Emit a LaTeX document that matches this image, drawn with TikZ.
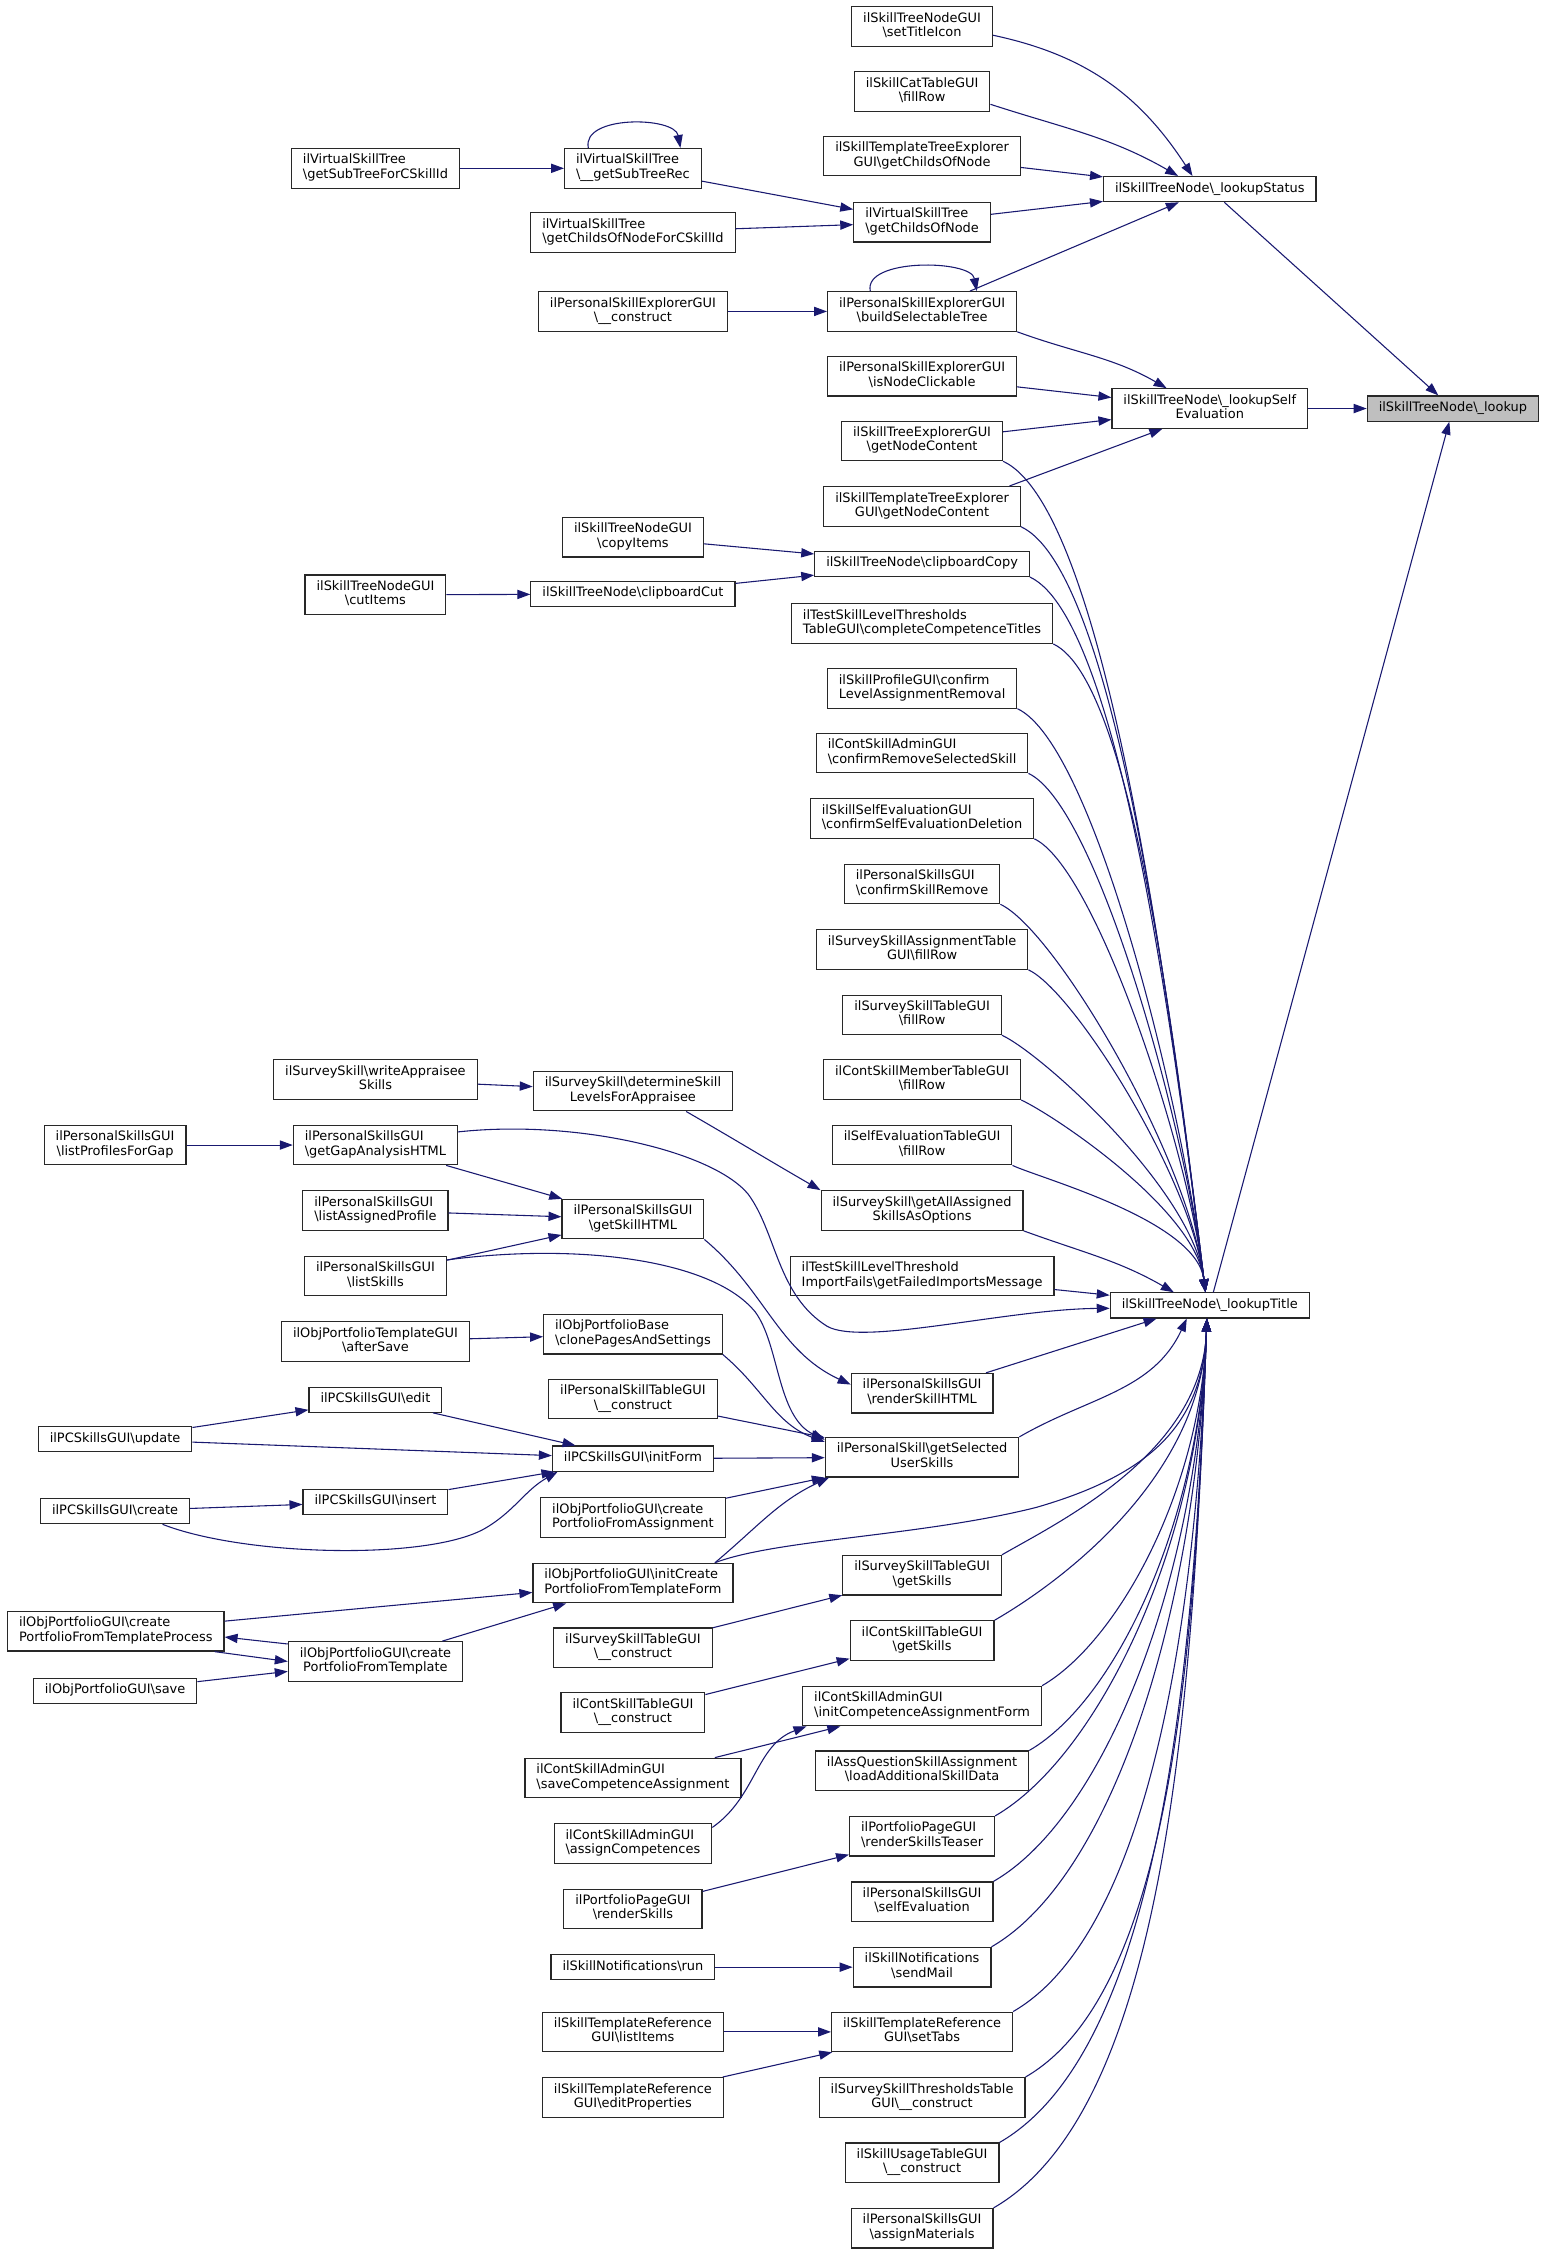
\documentclass[tikz,border=0pt]{standalone}
\usepackage{fontspec}
\setmainfont{DejaVu Sans}
\usetikzlibrary{arrows.meta}
\definecolor{edgeblue}{RGB}{25,25,112}
\definecolor{rootgray}{RGB}{191,191,191}
\definecolor{boxline}{RGB}{40,40,40}
\newcommand\bsh{\textbackslash}
\newcommand\twol[2]{\begin{tabular}{@{}l@{}}#1\\\multicolumn{1}{@{}c@{}}{#2}\end{tabular}}
\newcommand\onel[1]{\begin{tabular}{@{}c@{}}#1\end{tabular}}
\tikzset{
  fn/.style={draw=boxline, line width=0.8pt, fill=white, inner xsep=8pt, inner ysep=3.75pt, font=\fontsize{9}{10}\selectfont},
  rootfn/.style={fn, fill=rootgray},
  call/.style={draw=edgeblue, line width=0.75pt, -{Triangle[length=9pt,width=6.4pt]}}
}
\begin{document}
\begin{tikzpicture}[x=1pt,y=1pt]
  \useasboundingbox (0,0) rectangle (1074,-1569);
  \node[rootfn] (lookup) at (1010,-284) {\onel{ilSkillTreeNode\bsh\_lookup}};
  \node[fn] (lookupStatus) at (841,-131.5) {\onel{ilSkillTreeNode\bsh\_lookupStatus}};
  \node[fn] (lookupSelfEval) at (841,-284) {\twol{ilSkillTreeNode\bsh\_lookupSelf}{Evaluation}};
  \node[fn] (lookupTitle) at (841,-907.5) {\onel{ilSkillTreeNode\bsh\_lookupTitle}};

  \node[fn] (setTitleIcon) at (641,-18.5) {\twol{ilSkillTreeNodeGUI}{\bsh setTitleIcon}};
  \node[fn] (catFillRow) at (641,-63.5) {\twol{ilSkillCatTableGUI}{\bsh fillRow}};
  \node[fn] (tplChildsOfNode) at (641,-108.5) {\twol{ilSkillTemplateTreeExplorer}{GUI\bsh getChildsOfNode}};
  \node[fn] (vstChildsOfNode) at (641,-154.5) {\twol{ilVirtualSkillTree}{\bsh getChildsOfNode}};
  \node[fn] (buildSelTree) at (641,-216.5) {\twol{ilPersonalSkillExplorerGUI}{\bsh buildSelectableTree}};
  \node[fn] (isNodeClickable) at (641,-261.5) {\twol{ilPersonalSkillExplorerGUI}{\bsh isNodeClickable}};
  \node[fn] (steNodeContent) at (641,-306.5) {\twol{ilSkillTreeExplorerGUI}{\bsh getNodeContent}};
  \node[fn] (tplNodeContent) at (641,-352) {\twol{ilSkillTemplateTreeExplorer}{GUI\bsh getNodeContent}};
  \node[fn] (clipCopy) at (641,-392) {\onel{ilSkillTreeNode\bsh clipboardCopy}};
  \node[fn] (complTitles) at (641,-433.5) {\twol{ilTestSkillLevelThresholds}{TableGUI\bsh completeCompetenceTitles}};
  \node[fn] (confirmLevel) at (641,-478.5) {\twol{ilSkillProfileGUI\bsh confirm}{LevelAssignmentRemoval}};
  \node[fn] (confirmRemove) at (641,-523.5) {\twol{ilContSkillAdminGUI}{\bsh confirmRemoveSelectedSkill}};
  \node[fn] (confirmSelfEval) at (641,-569) {\twol{ilSkillSelfEvaluationGUI}{\bsh confirmSelfEvaluationDeletion}};
  \node[fn] (confirmSkillRem) at (641,-614.5) {\twol{ilPersonalSkillsGUI}{\bsh confirmSkillRemove}};
  \node[fn] (ssaFillRow) at (641,-660) {\twol{ilSurveySkillAssignmentTable}{GUI\bsh fillRow}};
  \node[fn] (sstFillRow) at (641,-705.5) {\twol{ilSurveySkillTableGUI}{\bsh fillRow}};
  \node[fn] (csmFillRow) at (641,-750.5) {\twol{ilContSkillMemberTableGUI}{\bsh fillRow}};
  \node[fn] (seFillRow) at (641,-796) {\twol{ilSelfEvaluationTableGUI}{\bsh fillRow}};
  \node[fn] (getAllAssigned) at (641,-841.5) {\twol{ilSurveySkill\bsh getAllAssigned}{SkillsAsOptions}};
  \node[fn] (failedImports) at (641,-887) {\twol{ilTestSkillLevelThreshold}{ImportFails\bsh getFailedImportsMessage}};
  \node[fn] (renderSkillHTML) at (641,-968.5) {\twol{ilPersonalSkillsGUI}{\bsh renderSkillHTML}};
  \node[fn] (getSelSkills) at (641,-1013) {\twol{ilPersonalSkill\bsh getSelected}{UserSkills}};
  \node[fn] (sstGetSkills) at (641,-1095) {\twol{ilSurveySkillTableGUI}{\bsh getSkills}};
  \node[fn] (cstGetSkills) at (641,-1140.5) {\twol{ilContSkillTableGUI}{\bsh getSkills}};
  \node[fn] (initCompForm) at (641,-1186) {\twol{ilContSkillAdminGUI}{\bsh initCompetenceAssignmentForm}};
  \node[fn] (loadAddData) at (641,-1231) {\twol{ilAssQuestionSkillAssignment}{\bsh loadAdditionalSkillData}};
  \node[fn] (renderTeaser) at (641,-1276.5) {\twol{ilPortfolioPageGUI}{\bsh renderSkillsTeaser}};
  \node[fn] (selfEval) at (641,-1322) {\twol{ilPersonalSkillsGUI}{\bsh selfEvaluation}};
  \node[fn] (sendMail) at (641,-1367.5) {\twol{ilSkillNotifications}{\bsh sendMail}};
  \node[fn] (setTabs) at (641,-1412.5) {\twol{ilSkillTemplateReference}{GUI\bsh setTabs}};
  \node[fn] (sstThrConstruct) at (641,-1458) {\twol{ilSurveySkillThresholdsTable}{GUI\bsh\_\_construct}};
  \node[fn] (usageConstruct) at (641,-1503.5) {\twol{ilSkillUsageTableGUI}{\bsh\_\_construct}};
  \node[fn] (assignMat) at (641,-1549) {\twol{ilPersonalSkillsGUI}{\bsh assignMaterials}};

  \node[fn] (getSubTreeRec) at (440,-117) {\twol{ilVirtualSkillTree}{\bsh\_\_getSubTreeRec}};
  \node[fn] (childsForCSkill) at (440,-161.5) {\twol{ilVirtualSkillTree}{\bsh getChildsOfNodeForCSkillId}};
  \node[fn] (pseConstruct) at (440,-216.5) {\twol{ilPersonalSkillExplorerGUI}{\bsh\_\_construct}};
  \node[fn] (copyItems) at (440,-373.5) {\twol{ilSkillTreeNodeGUI}{\bsh copyItems}};
  \node[fn] (clipCut) at (440,-413) {\onel{ilSkillTreeNode\bsh clipboardCut}};
  \node[fn] (determineLevels) at (440,-758.5) {\twol{ilSurveySkill\bsh determineSkill}{LevelsForAppraisee}};
  \node[fn] (getSkillHTML) at (440,-847.5) {\twol{ilPersonalSkillsGUI}{\bsh getSkillHTML}};
  \node[fn] (clonePages) at (440,-927.5) {\twol{ilObjPortfolioBase}{\bsh clonePagesAndSettings}};
  \node[fn] (pstConstruct) at (440,-972.5) {\twol{ilPersonalSkillTableGUI}{\bsh\_\_construct}};
  \node[fn] (initForm) at (440,-1014) {\onel{ilPCSkillsGUI\bsh initForm}};
  \node[fn] (createFromAssign) at (440,-1055) {\twol{ilObjPortfolioGUI\bsh create}{PortfolioFromAssignment}};
  \node[fn] (initCreateForm) at (440,-1100.5) {\twol{ilObjPortfolioGUI\bsh initCreate}{PortfolioFromTemplateForm}};
  \node[fn] (sstConstruct) at (440,-1145.5) {\twol{ilSurveySkillTableGUI}{\bsh\_\_construct}};
  \node[fn] (cstConstruct) at (440,-1190.5) {\twol{ilContSkillTableGUI}{\bsh\_\_construct}};
  \node[fn] (saveCompAssign) at (440,-1236) {\twol{ilContSkillAdminGUI}{\bsh saveCompetenceAssignment}};
  \node[fn] (assignComp) at (440,-1281.5) {\twol{ilContSkillAdminGUI}{\bsh assignCompetences}};
  \node[fn] (renderSkills) at (440,-1327) {\twol{ilPortfolioPageGUI}{\bsh renderSkills}};
  \node[fn] (notifRun) at (440,-1367.5) {\onel{ilSkillNotifications\bsh run}};
  \node[fn] (tplListItems) at (440,-1412.5) {\twol{ilSkillTemplateReference}{GUI\bsh listItems}};
  \node[fn] (tplEditProps) at (440,-1458) {\twol{ilSkillTemplateReference}{GUI\bsh editProperties}};

  \node[fn] (subTreeForCSkill) at (261,-117) {\twol{ilVirtualSkillTree}{\bsh getSubTreeForCSkillId}};
  \node[fn] (cutItems) at (261,-413.5) {\twol{ilSkillTreeNodeGUI}{\bsh cutItems}};
  \node[fn] (writeAppraisee) at (261,-750.5) {\twol{ilSurveySkill\bsh writeAppraisee}{Skills}};
  \node[fn] (gapAnalysis) at (261,-796) {\twol{ilPersonalSkillsGUI}{\bsh getGapAnalysisHTML}};
  \node[fn] (listAssigned) at (261,-841.5) {\twol{ilPersonalSkillsGUI}{\bsh listAssignedProfile}};
  \node[fn] (listSkills) at (261,-887) {\twol{ilPersonalSkillsGUI}{\bsh listSkills}};
  \node[fn] (afterSave) at (261,-932.5) {\twol{ilObjPortfolioTemplateGUI}{\bsh afterSave}};
  \node[fn] (pcEdit) at (261,-973) {\onel{ilPCSkillsGUI\bsh edit}};
  \node[fn] (pcInsert) at (261,-1044) {\onel{ilPCSkillsGUI\bsh insert}};
  \node[fn] (createFromTpl) at (261,-1155) {\twol{ilObjPortfolioGUI\bsh create}{PortfolioFromTemplate}};

  \node[fn] (listProfiles) at (80,-796) {\twol{ilPersonalSkillsGUI}{\bsh listProfilesForGap}};
  \node[fn] (pcUpdate) at (80,-1000.5) {\onel{ilPCSkillsGUI\bsh update}};
  \node[fn] (pcCreate) at (80,-1050.5) {\onel{ilPCSkillsGUI\bsh create}};
  \node[fn] (createFromTplProc) at (80.5,-1134) {\twol{ilObjPortfolioGUI\bsh create}{PortfolioFromTemplateProcess}};
  \node[fn] (portfolioSave) at (80,-1175.5) {\onel{ilObjPortfolioGUI\bsh save}};

  \draw[call] (lookupStatus) -- (lookup);
  \draw[call] (lookupSelfEval) -- (lookup);
  \draw[call] (lookupTitle) -- (lookup);

  \draw[call] ([yshift=-6]setTitleIcon.east) to[out=-12,in=123] ([xshift=-12]lookupStatus.north);
  \draw[call] ([yshift=-9]catFillRow.east) to[out=-18,in=150] ([xshift=-22]lookupStatus.north);
  \draw[call] (tplChildsOfNode) -- (lookupStatus);
  \draw[call] (vstChildsOfNode) -- (lookupStatus);
  \draw[call] (buildSelTree) -- (lookupStatus);

  \draw[call] (buildSelTree.south east) to[out=-20,in=150] ([xshift=-30]lookupSelfEval.north);
  \draw[call] (isNodeClickable) -- (lookupSelfEval);
  \draw[call] (steNodeContent) -- (lookupSelfEval);
  \draw[call] ([xshift=-8]tplNodeContent.north east) -- ([xshift=-33]lookupSelfEval.south);

  \foreach \n in {steNodeContent,tplNodeContent,clipCopy,complTitles,confirmLevel,confirmRemove,confirmSelfEval,confirmSkillRem,ssaFillRow,sstFillRow,csmFillRow,seFillRow}
    \draw[call] (\n.south east) to[out=-25,in=97,out looseness=0.35,in looseness=0.8] ([xshift=-3]lookupTitle.north);
  \draw[call] (getAllAssigned.south east) to[out=-20,in=150] ([xshift=-25]lookupTitle.north);
  \draw[call] (failedImports) -- (lookupTitle);
  \draw[call] ([yshift=-5]gapAnalysis.north east) .. controls (400,-778) and (495,-800) .. (520,-830)
    .. controls (540,-857) and (540,-900) .. (575,-922) .. controls (600,-936) and (700,-910) .. ([yshift=-2]lookupTitle.west);
  \draw[call] (renderSkillHTML) -- ([xshift=-37]lookupTitle.south);
  \draw[call] (getSelSkills.north east) to[out=30,in=-115] ([xshift=-16]lookupTitle.south);
  \draw[call] ([xshift=57]initCreateForm.north) .. controls (540,-1070) and (640,-1068) .. (720,-1048)
    .. controls (800,-1025) and (836,-990) .. ([xshift=-2]lookupTitle.south);
  \foreach \n in {sstGetSkills,cstGetSkills,initCompForm,loadAddData,renderTeaser,selfEval,sendMail,setTabs,sstThrConstruct,usageConstruct,assignMat}
    \draw[call] (\n.north east) to[out=30,in=-92,out looseness=0.55,in looseness=1.1] ([xshift=-2]lookupTitle.south);

  \draw[call] ([xshift=-31]getSubTreeRec.north) .. controls +(-5,23) and +(-4,22) .. ([xshift=33]getSubTreeRec.north);
  \draw[call] ([xshift=-36]buildSelTree.north) .. controls +(-5,23) and +(-4,22) .. ([xshift=38]buildSelTree.north);
  \draw[call] (subTreeForCSkill) -- (getSubTreeRec);
  \draw[call] (getSubTreeRec) -- (vstChildsOfNode);
  \draw[call] (childsForCSkill) -- (vstChildsOfNode);
  \draw[call] (pseConstruct) -- (buildSelTree);
  \draw[call] (copyItems) -- (clipCopy);
  \draw[call] (clipCut) -- (clipCopy);
  \draw[call] (cutItems) -- (clipCut);

  \draw[call] (writeAppraisee) -- (determineLevels);
  \draw[call] ([xshift=37]determineLevels.south) to[out=-30,in=150] (getAllAssigned.north west);
  \draw[call] (listProfiles) -- (gapAnalysis);
  \draw[call] (gapAnalysis) -- (getSkillHTML);
  \draw[call] (listAssigned) -- (getSkillHTML);
  \draw[call] (listSkills) -- (getSkillHTML);
  \draw[call] ([yshift=-3]listSkills.north east) .. controls (400,-864) and (495,-875) .. (525,-912)
    .. controls (542,-935) and (540,-985) .. ([yshift=-2]getSelSkills.north west);
  \draw[call] (getSkillHTML.south east) to[out=-40,in=155] ([yshift=6]renderSkillHTML.west);
  \draw[call] (afterSave) -- (clonePages);
  \draw[call] (clonePages.south east) to[out=-40,in=160] ([yshift=-3.5]getSelSkills.north west);
  \draw[call] (pstConstruct) -- (getSelSkills);
  \draw[call] (initForm) -- (getSelSkills);
  \draw[call] (createFromAssign) -- (getSelSkills);
  \draw[call] ([xshift=57]initCreateForm.north) to[out=40,in=-155] ([xshift=3]getSelSkills.south west);

  \draw[call] (pcUpdate) -- (pcEdit);
  \draw[call] (pcUpdate) -- (initForm);
  \draw[call] (pcEdit) -- (initForm);
  \draw[call] (pcCreate) -- (pcInsert);
  \draw[call] (pcInsert) -- (initForm);
  \draw[call] ([xshift=33]pcCreate.south) .. controls (170,-1082) and (300,-1085) .. (338,-1062)
    .. controls (358,-1050) and (365,-1036) .. ([xshift=4]initForm.south west);
  \draw[call] (createFromTplProc) -- (initCreateForm);
  \draw[call] (createFromTpl) -- (initCreateForm);
  \draw[call] ([yshift=-2]createFromTpl.north west) -- ([yshift=-4]createFromTplProc.east);
  \draw[call] ([xshift=-7]createFromTplProc.south east) -- (createFromTpl.west);
  \draw[call] (portfolioSave) -- (createFromTpl);

  \draw[call] (sstConstruct) -- (sstGetSkills);
  \draw[call] (cstConstruct) -- (cstGetSkills);
  \draw[call] (saveCompAssign) -- (initCompForm);
  \draw[call] ([yshift=-3]assignComp.north east) to[out=35,in=-160] ([xshift=3]initCompForm.south west);
  \draw[call] (renderSkills) -- (renderTeaser);
  \draw[call] (notifRun) -- (sendMail);
  \draw[call] (tplListItems) -- (setTabs);
  \draw[call] (tplEditProps) -- (setTabs);
\end{tikzpicture}
\end{document}
